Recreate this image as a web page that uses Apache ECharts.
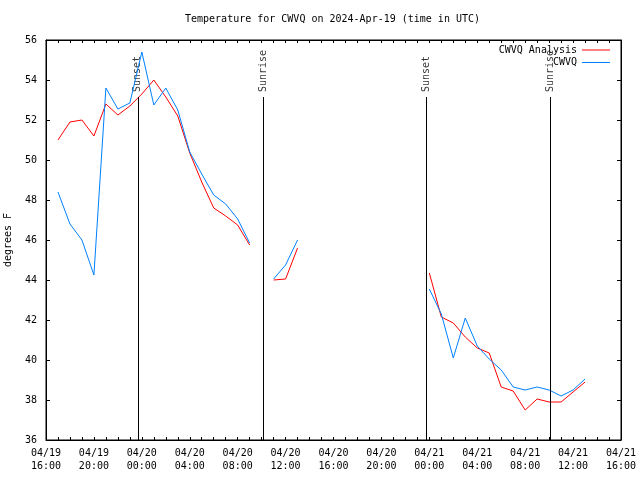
<!DOCTYPE html>
<html>
<head>
<meta charset="utf-8">
<script src="https://cdn.jsdelivr.net/npm/echarts@6/dist/echarts.min.js"></script>
<style>html,body{margin:0;padding:0;background:#fff}#c{width:640px;height:480px}</style>
</head>
<body>
<div id="c"></div>
<script>
// ---- data ----
const times = [
  '2024-04-19T17:00Z','2024-04-19T18:00Z','2024-04-19T19:00Z','2024-04-19T20:00Z',
  '2024-04-19T21:00Z','2024-04-19T22:00Z','2024-04-19T23:00Z','2024-04-20T00:00Z',
  '2024-04-20T01:00Z','2024-04-20T02:00Z','2024-04-20T03:00Z','2024-04-20T04:00Z',
  '2024-04-20T05:00Z','2024-04-20T06:00Z','2024-04-20T07:00Z','2024-04-20T08:00Z',
  '2024-04-20T09:00Z','2024-04-20T10:00Z',
  '2024-04-20T11:00Z','2024-04-20T12:00Z','2024-04-20T13:00Z','2024-04-20T14:00Z',
  '2024-04-21T00:00Z','2024-04-21T01:00Z','2024-04-21T02:00Z','2024-04-21T03:00Z',
  '2024-04-21T04:00Z','2024-04-21T05:00Z','2024-04-21T06:00Z','2024-04-21T07:00Z',
  '2024-04-21T08:00Z','2024-04-21T09:00Z','2024-04-21T10:00Z','2024-04-21T11:00Z',
  '2024-04-21T12:00Z','2024-04-21T13:00Z'
];
const analysisValues = [
  51.0, 51.9, 52.0, 51.2, 52.8, 52.25, 52.7, 53.3, 54.0, 53.15, 52.2, 50.35,
  48.9, 47.6, 47.2, 46.75, 45.75, null,
  44.0, 44.05, 45.6, null,
  44.35, 42.15, 41.85, 41.15, 40.6, 40.35, 38.65, 38.45, 37.5, 38.05, 37.9, 37.9, 38.4, 38.9
];
const stationValues = [
  48.4, 46.8, 46.0, 44.25, 53.6, 52.55, 52.85, 55.4, 52.75, 53.6, 52.5, 50.4,
  49.3, 48.25, 47.8, 47.05, 45.85, null,
  44.05, 44.75, 46.0, null,
  43.55, 42.3, 40.1, 42.1, 40.7, 40.05, 39.5, 38.65, 38.5, 38.65, 38.5, 38.2, 38.5, 39.05
];
const eventNames = ['Sunset', 'Sunrise', 'Sunset', 'Sunrise'];
const eventTimes = ['2024-04-19T23:40Z', '2024-04-20T10:07Z', '2024-04-20T23:43Z', '2024-04-21T10:04Z'];
const seriesNames = ['CWVQ Analysis', 'CWVQ'];
const xStart = '2024-04-19T16:00Z';
const xEnd = '2024-04-21T16:00Z';
const yMin = 36, yMax = 56, yStep = 2;
const titleText = 'Temperature for CWVQ on 2024-Apr-19 (time in UTC)';
const yName = 'degrees F';

// ---- build ----
const FONT = 'DejaVu Sans Mono';
const FS = 10;
const HOUR = 3600 * 1000;
function pairs(vals) {
  return times.map((t, i) => [Date.parse(t), vals[i] == null ? '-' : vals[i]]);
}
function fmt(v) {
  const d = new Date(v);
  const p = n => String(n).padStart(2, '0');
  return p(d.getUTCMonth() + 1) + '/' + p(d.getUTCDate()) + '\n' + p(d.getUTCHours()) + ':' + p(d.getUTCMinutes());
}
const lineTop = 53.15;
const labelY = 53.4;

const xCommon = {
  type: 'value',
  min: Date.parse(xStart),
  max: Date.parse(xEnd),
  interval: 4 * HOUR,
  splitLine: { show: false },
  axisLine: { show: true, lineStyle: { color: '#000', width: 1 } },
  axisTick: { show: true, inside: true, length: 3, lineStyle: { color: '#000' } },
  minorTick: { show: true, splitNumber: 4, length: 3, lineStyle: { color: '#000' } },
  minorSplitLine: { show: false }
};
const yCommon = {
  type: 'value',
  min: yMin, max: yMax, interval: yStep,
  splitLine: { show: false },
  axisLine: { show: true, lineStyle: { color: '#000', width: 1 } },
  axisTick: { show: true, inside: true, length: 4, lineStyle: { color: '#000' } }
};

const chart = echarts.init(document.getElementById('c'), null, { renderer: 'canvas' });
chart.setOption({
  backgroundColor: '#fff',
  animation: false,
  title: {
    text: titleText,
    left: 185, top: 14, padding: 0,
    textStyle: { fontFamily: FONT, fontSize: FS, fontWeight: 'normal', color: '#000' }
  },
  legend: [
    {
      data: [seriesNames[0]], right: 30, top: 44, padding: 0, align: 'right',
      icon: 'rect', itemWidth: 28, itemHeight: 1, itemGap: 0,
      textStyle: { fontFamily: FONT, fontSize: FS, color: '#000', lineHeight: 12 }
    },
    {
      data: [seriesNames[1]], right: 30, top: 56.5, padding: 0, align: 'right',
      icon: 'rect', itemWidth: 28, itemHeight: 1, itemGap: 0,
      textStyle: { fontFamily: FONT, fontSize: FS, color: '#000', lineHeight: 12 }
    }
  ],
  grid: {
    left: 46, right: 19, top: 40, bottom: 40, containLabel: false, outerBoundsMode: 'none',
    show: true, borderColor: '#000', borderWidth: 1, backgroundColor: 'transparent'
  },
  xAxis: [
    Object.assign({}, xCommon, {
      position: 'bottom',
      axisLabel: {
        show: true, margin: 7, formatter: fmt, showMinLabel: true, showMaxLabel: true,
        fontFamily: FONT, fontSize: FS, color: '#000', lineHeight: 13
      }
    }),
    Object.assign({}, xCommon, { position: 'top', axisLabel: { show: false } })
  ],
  yAxis: [
    Object.assign({}, yCommon, {
      position: 'left',
      name: yName, nameLocation: 'middle', nameGap: 33, nameRotate: 90,
      nameTextStyle: { fontFamily: FONT, fontSize: FS, color: '#000' },
      axisLabel: { show: true, margin: 9, fontFamily: FONT, fontSize: FS, color: '#000' }
    }),
    Object.assign({}, yCommon, { position: 'right', axisLabel: { show: false } })
  ],
  series: [
    {
      name: seriesNames[0], type: 'line', data: pairs(analysisValues),
      showSymbol: false, symbol: 'none', connectNulls: false,
      lineStyle: { color: '#ff0000', width: 1 }, itemStyle: { color: '#ff0000' }, z: 3
    },
    {
      name: seriesNames[1], type: 'line', data: pairs(stationValues),
      showSymbol: false, symbol: 'none', connectNulls: false,
      lineStyle: { color: '#0080ff', width: 1 }, itemStyle: { color: '#0080ff' }, z: 4
    },
    {
      name: 'events', type: 'scatter', symbolSize: 0, silent: true,
      data: eventTimes.map((t, i) => ({ value: [Date.parse(t), labelY], name: eventNames[i] })),
      label: {
        show: true, position: [0, 0], rotate: 90, align: 'left', verticalAlign: 'middle',
        formatter: p => p.name, fontFamily: FONT, fontSize: FS, color: '#000'
      },
      markLine: {
        silent: true, symbol: 'none', animation: false,
        label: { show: false },
        lineStyle: { color: '#000', width: 1, type: 'solid' },
        data: eventTimes.map(t => [{ coord: [Date.parse(t), lineTop] }, { coord: [Date.parse(t), yMin] }])
      }
    }
  ]
});
</script>
</body>
</html>
